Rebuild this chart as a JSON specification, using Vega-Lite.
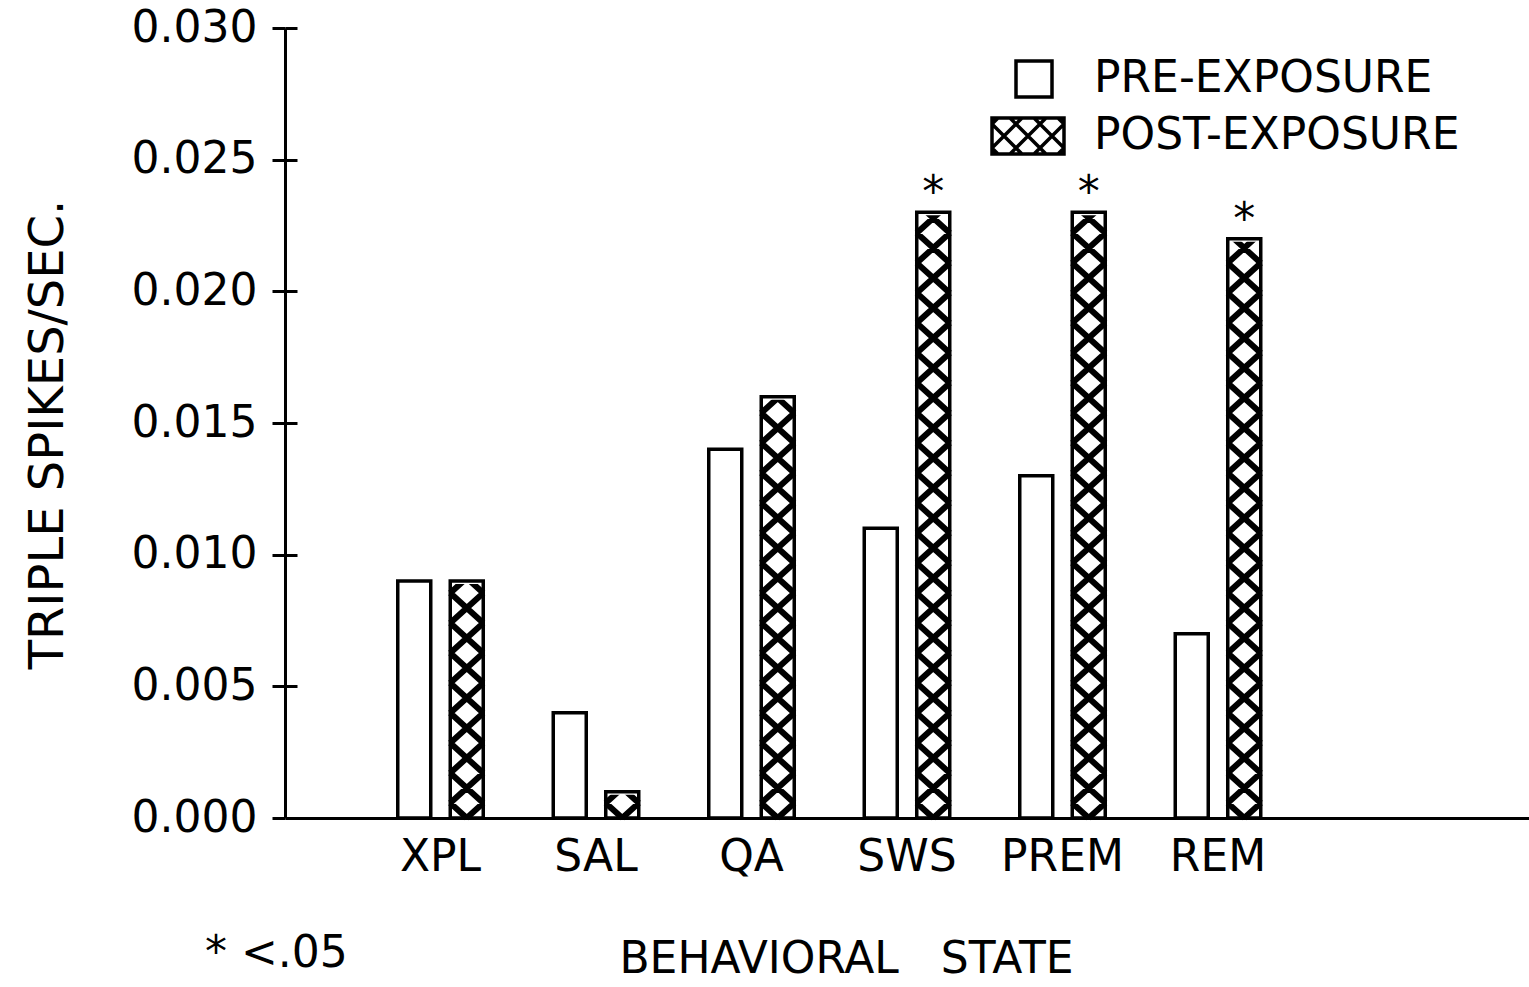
{
  "$schema": "https://vega.github.io/schema/vega-lite/v6.json",
  "width": 1244,
  "height": 790,
  "autosize": {"type": "none"},
  "padding": {"left": 285, "top": 28, "right": 0, "bottom": 169},
  "background": "white",
  "config": {
    "view": {"stroke": null},
    "font": "DejaVu Sans"
  },
  "title": {
    "text": "* <.05",
    "orient": "bottom",
    "anchor": "start",
    "frame": "group",
    "font": "DejaVu Sans",
    "fontSize": 44,
    "fontWeight": "normal",
    "color": "black",
    "baseline": "alphabetic",
    "offset": 0,
    "dx": -80,
    "dy": -14
  },
  "data": {
    "values": [
      {"state": "XPL", "period": "PRE-EXPOSURE", "value": 0.009, "sig": false},
      {"state": "XPL", "period": "POST-EXPOSURE", "value": 0.009, "sig": false},
      {"state": "SAL", "period": "PRE-EXPOSURE", "value": 0.004, "sig": false},
      {"state": "SAL", "period": "POST-EXPOSURE", "value": 0.001, "sig": false},
      {"state": "QA", "period": "PRE-EXPOSURE", "value": 0.014, "sig": false},
      {"state": "QA", "period": "POST-EXPOSURE", "value": 0.016, "sig": false},
      {"state": "SWS", "period": "PRE-EXPOSURE", "value": 0.011, "sig": false},
      {"state": "SWS", "period": "POST-EXPOSURE", "value": 0.023, "sig": true},
      {"state": "PREM", "period": "PRE-EXPOSURE", "value": 0.013, "sig": false},
      {"state": "PREM", "period": "POST-EXPOSURE", "value": 0.023, "sig": true},
      {"state": "REM", "period": "PRE-EXPOSURE", "value": 0.007, "sig": false},
      {"state": "REM", "period": "POST-EXPOSURE", "value": 0.022, "sig": true}
    ]
  },
  "encoding": {
    "x": {
      "field": "state",
      "type": "nominal",
      "sort": ["XPL", "SAL", "QA", "SWS", "PREM", "REM"],
      "scale": {
        "domain": ["XPL", "SAL", "QA", "SWS", "PREM", "REM"],
        "paddingInner": 0,
        "paddingOuter": 1,
        "align": 0.25
      },
      "axis": {
        "title": "BEHAVIORAL\u00a0\u00a0\u00a0STATE",
        "titleFont": "DejaVu Sans",
        "titleFontSize": 44,
        "titleFontWeight": "normal",
        "titleColor": "black",
        "titleX": 561,
        "titleY": 154,
        "titleAlign": "center",
        "titleBaseline": "alphabetic",
        "labelAngle": 0,
        "labelFont": "DejaVu Sans",
        "labelFontSize": 44,
        "labelColor": "black",
        "labelBaseline": "alphabetic",
        "labelPadding": 52,
        "ticks": false,
        "tickSize": 0,
        "domainColor": "black",
        "domainWidth": 3,
        "zindex": 1
      }
    },
    "xOffset": {
      "field": "period",
      "type": "nominal",
      "sort": ["PRE-EXPOSURE", "POST-EXPOSURE"],
      "scale": {
        "domain": ["PRE-EXPOSURE", "POST-EXPOSURE"],
        "paddingInner": 0.3714,
        "paddingOuter": 0.6667
      }
    }
  },
  "resolve": {"axis": {"y": "independent"}},
  "layer": [
    {
      "transform": [{"filter": "datum.period === 'POST-EXPOSURE'"}],
      "mark": {
        "type": "point",
        "shape": "M0,0L16.5,-15M-16.5,-15L16.5,-45M-16.5,-45L16.5,-75M-16.5,-75L16.5,-105M-16.5,-105L16.5,-135M-16.5,-135L16.5,-165M-16.5,-165L16.5,-195M-16.5,-195L16.5,-225M-16.5,-225L16.5,-255M-16.5,-255L16.5,-285M-16.5,-285L16.5,-315M-16.5,-315L16.5,-345M-16.5,-345L16.5,-375M-16.5,-375L16.5,-405M-16.5,-405L16.5,-435M-16.5,-435L16.5,-465M-16.5,-465L16.5,-495M-16.5,-495L16.5,-525M-16.5,-525L16.5,-555M-16.5,-555L16.5,-585M-16.5,-585L16.5,-615M-16.5,-615L16.5,-645M0,0L-16.5,-15M16.5,-15L-16.5,-45M16.5,-45L-16.5,-75M16.5,-75L-16.5,-105M16.5,-105L-16.5,-135M16.5,-135L-16.5,-165M16.5,-165L-16.5,-195M16.5,-195L-16.5,-225M16.5,-225L-16.5,-255M16.5,-255L-16.5,-285M16.5,-285L-16.5,-315M16.5,-315L-16.5,-345M16.5,-345L-16.5,-375M16.5,-375L-16.5,-405M16.5,-405L-16.5,-435M16.5,-435L-16.5,-465M16.5,-465L-16.5,-495M16.5,-495L-16.5,-525M16.5,-525L-16.5,-555M16.5,-555L-16.5,-585M16.5,-585L-16.5,-615M16.5,-615L-16.5,-645",
        "size": 4,
        "filled": false,
        "color": "black",
        "stroke": "black",
        "strokeWidth": 6,
        "strokeCap": "butt",
        "opacity": 1
      },
      "encoding": {
        "y": {"datum": 0, "type": "quantitative", "axis": null}
      }
    },
    {
      "transform": [{"filter": "datum.period === 'POST-EXPOSURE'"}],
      "mark": {"type": "bar", "fill": "white", "stroke": "white", "strokeWidth": 6},
      "encoding": {
        "y": {"field": "value", "type": "quantitative", "axis": null},
        "y2": {"datum": 0.025}
      }
    },
    {
      "mark": {"type": "bar", "stroke": "black", "strokeWidth": 3.5},
      "encoding": {
        "y": {
          "field": "value",
          "type": "quantitative",
          "scale": {"domain": [0, 0.03], "nice": false, "zero": true},
          "axis": {
            "orient": "left",
            "title": "TRIPLE SPIKES/SEC.",
            "titleFont": "DejaVu Sans",
            "titleFontSize": 48,
            "titleFontWeight": "normal",
            "titleColor": "black",
            "titleAngle": -90,
            "titleX": -223,
            "titleY": 406,
            "titleAlign": "center",
            "titleBaseline": "alphabetic",
            "values": [0, 0.005, 0.01, 0.015, 0.02, 0.025, 0.03],
            "format": ".3f",
            "labelFont": "DejaVu Sans",
            "labelFontSize": 44,
            "labelColor": "black",
            "labelPadding": 15,
            "tickSize": 13,
            "tickWidth": 3,
            "tickColor": "black",
            "domainColor": "black",
            "domainWidth": 3,
            "grid": false
          }
        },
        "fill": {
          "condition": {"test": "datum.period === 'PRE-EXPOSURE'", "value": "white"},
          "value": "transparent"
        }
      }
    },
    {
      "mark": {"type": "point", "opacity": 0, "color": "black", "filled": false},
      "encoding": {
        "y": {
          "field": "value",
          "type": "quantitative",
          "axis": {
            "orient": "left",
            "offset": -12,
            "title": null,
            "labels": false,
            "domain": false,
            "grid": false,
            "values": [0.005, 0.01, 0.015, 0.02, 0.025, 0.03],
            "tickSize": 12,
            "tickWidth": 3,
            "tickColor": "black"
          }
        },
        "shape": {
          "field": "period",
          "type": "nominal",
          "scale": {
            "domain": ["PRE-EXPOSURE", "POST-EXPOSURE"],
            "range": [
              "M-0.6,-0.9H1.2V0.9H-0.6Z",
              "M-1.8,-0.9H1.8V0.9H-1.8ZM-1.8,-0.6L-1.5,-0.9M-1.8,0.6L-0.3,-0.9M-0.9,0.9L0.9,-0.9M0.3,0.9L1.8,-0.6M1.5,0.9L1.8,0.6M1.8,-0.6L1.5,-0.9M1.8,0.6L0.3,-0.9M0.9,0.9L-0.9,-0.9M-0.3,0.9L-1.8,-0.6M-1.5,0.9L-1.8,0.6"
            ]
          },
          "legend": {
            "title": null,
            "orient": "none",
            "legendX": 721,
            "legendY": 29,
            "padding": 0,
            "symbolSize": 1600,
            "symbolOpacity": 1,
            "symbolStrokeColor": "black",
            "symbolFillColor": "white",
            "symbolStrokeWidth": 3.5,
            "labelFont": "DejaVu Sans",
            "labelFontSize": 44,
            "labelColor": "black",
            "labelOffset": 44,
            "labelLimit": 1000,
            "rowPadding": 7
          }
        }
      }
    },
    {
      "transform": [{"filter": "datum.sig"}],
      "mark": {
        "type": "text",
        "text": "*",
        "font": "DejaVu Sans",
        "fontSize": 44,
        "color": "black",
        "baseline": "alphabetic",
        "dy": -5
      },
      "encoding": {
        "y": {"field": "value", "type": "quantitative", "axis": null}
      }
    }
  ]
}
